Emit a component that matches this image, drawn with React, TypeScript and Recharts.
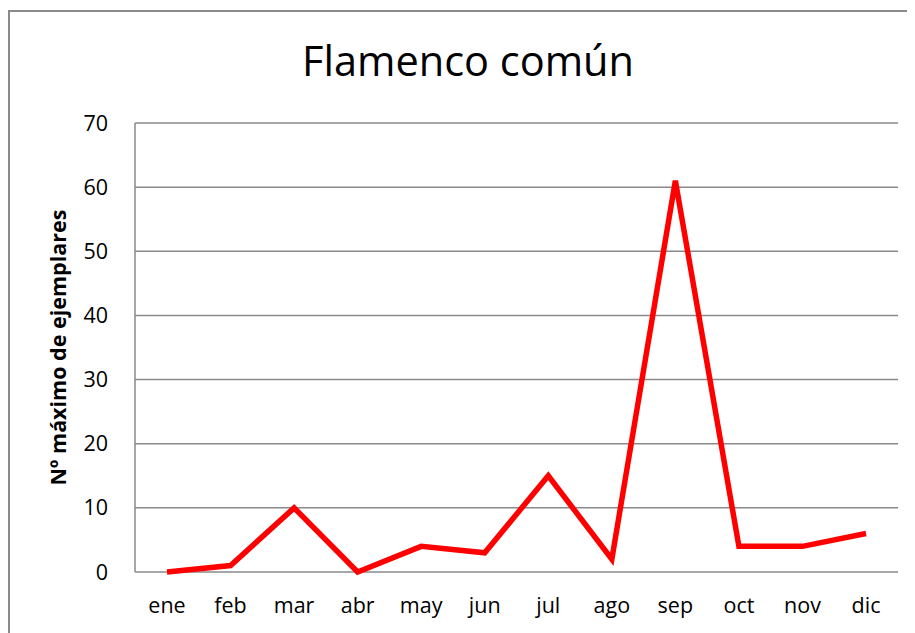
import React from 'react';
import { LineChart, Line, XAxis, YAxis, CartesianGrid, Label } from 'recharts';

const months = ['ene', 'feb', 'mar', 'abr', 'may', 'jun', 'jul', 'ago', 'sep', 'oct', 'nov', 'dic'];
const counts = [0, 1, 10, 0, 4, 3, 15, 2, 61, 4, 4, 6];
const yTicks = [0, 10, 20, 30, 40, 50, 60, 70];
const title = 'Flamenco común';
const yLabel = 'Nº máximo de ejemplares';

const data = months.map((m, i) => ({ month: m, value: counts[i] }));

const FONT = '"Open Sans", Lato, sans-serif';

export default function App() {
  return (
    <div style={{ position: 'relative', width: 907, height: 625, overflow: 'hidden', fontFamily: FONT }}>
      <div
        style={{
          position: 'absolute',
          left: 0,
          top: 2,
          width: 960,
          height: 700,
          borderLeft: '2px solid #8a8a8a',
          borderTop: '2px solid #8a8a8a',
          boxSizing: 'border-box',
        }}
      />
      <div
        style={{
          position: 'absolute',
          left: 0,
          width: 920,
          top: 25,
          textAlign: 'center',
          fontSize: 41.5,
          lineHeight: '54px',
          color: '#000',
          fontFamily: FONT,
        }}
      >
        {title}
      </div>
      <div style={{ position: 'absolute', left: 2, top: 4 }}>
        <LineChart
          width={905}
          height={621}
          data={data}
          margin={{ top: 111, right: 17, bottom: 21, left: 55 }}
        >
          <CartesianGrid vertical={false} stroke="#8a8a8a" strokeWidth={1.5} />
          <XAxis
            dataKey="month"
            axisLine={false}
            tickLine={false}
            height={40}
            tickMargin={20}
            padding={{ left: 32, right: 32 }}
            tick={{ fontSize: 21.5, fill: '#000', fontFamily: FONT }}
            interval={0}
          />
          <YAxis
            domain={[0, 70]}
            ticks={yTicks}
            axisLine={{ stroke: '#8a8a8a', strokeWidth: 1.5 }}
            tickLine={false}
            width={70}
            tickMargin={21}
            tick={{ fontSize: 21.5, fill: '#000', fontFamily: FONT }}
          >
            <Label
              value={yLabel}
              angle={-90}
              position="insideLeft"
              offset={-7}
              style={{ textAnchor: 'middle', fontSize: 21.5, fontWeight: 'bold', fill: '#000', fontFamily: FONT }}
            />
          </YAxis>
          <Line
            type="linear"
            dataKey="value"
            stroke="#ff0000"
            strokeWidth={5.5}
            dot={false}
            isAnimationActive={false}
          />
        </LineChart>
      </div>
    </div>
  );
}
